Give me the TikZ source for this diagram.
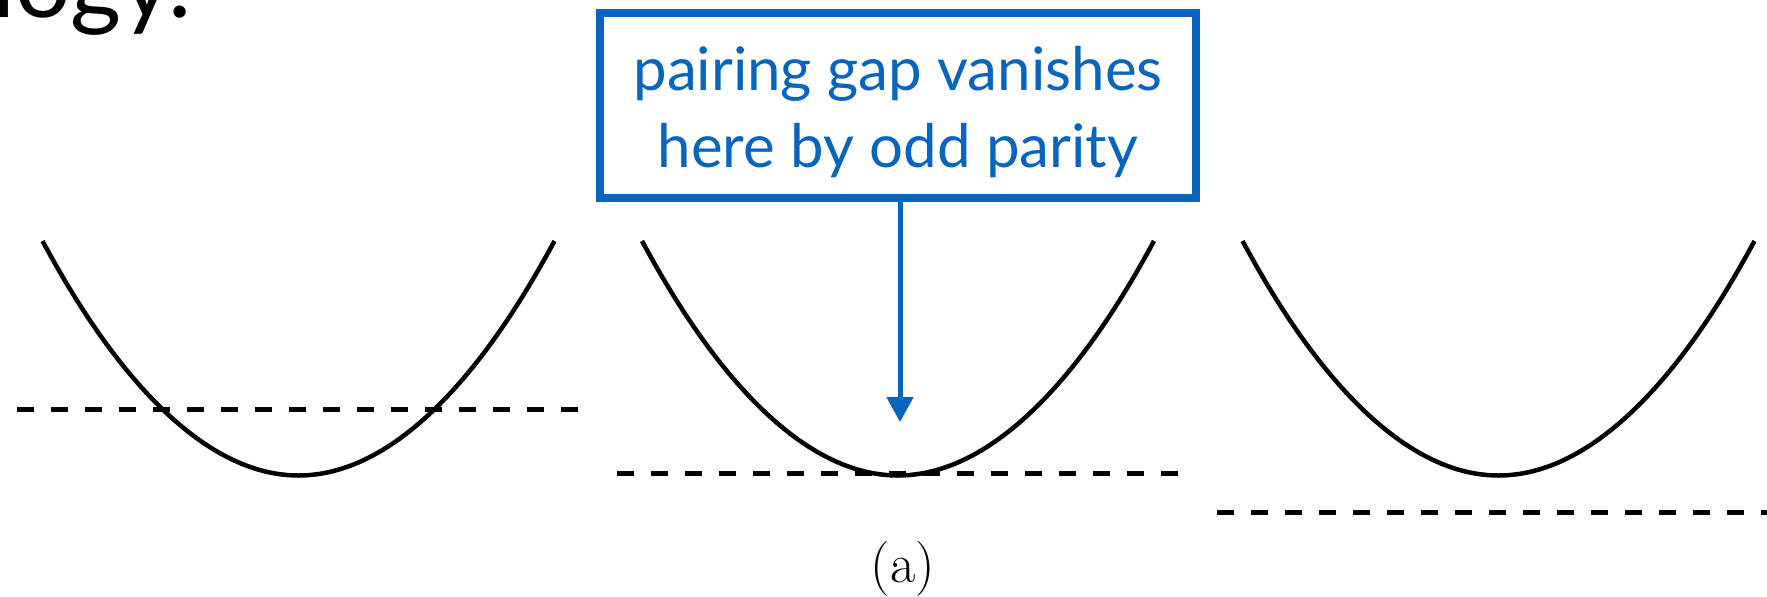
\documentclass[tikz,border=0pt]{standalone}
\usepackage{fontspec}
\newfontfamily\gill{Lato}
\usetikzlibrary{arrows.meta}
\definecolor{kblue}{RGB}{7,101,192}
\tikzset{
  curve/.style={line width=4.5pt, black},
  level/.style={line width=5pt, black, dash pattern=on 17pt off 17pt},
  callout/.style={draw=kblue, line width=8pt, minimum width=596.5pt, minimum height=185pt, inner sep=0pt},
  callouttext/.style={text=kblue, font=\gill\fontsize{60}{77}\selectfont, inner sep=0pt, anchor=base},
  pointer/.style={draw=kblue, line width=5pt, -{Triangle[width=26pt,length=25pt]}},
}
\begin{document}
\begin{tikzpicture}[x=1pt,y=1pt]
\useasboundingbox (0,0) rectangle (1767,-597);
% cut-off title
\node[anchor=base east, inner sep=0pt, font=\gill\fontsize{98}{112}\selectfont] (title) at (192,-17) {ology.};
% parabolas
\draw[curve] (42.5,-241) parabola bend (298.5,-475.5) (554.5,-241);
\draw[curve] (642,-241) parabola bend (898,-475.5) (1154,-241);
\draw[curve] (1242.5,-241) parabola bend (1498.5,-475.5) (1754.5,-241);
% dashed levels
\draw[level] (17,-409) -- (580,-409);
\draw[level] (617,-473) -- (1180,-473);
\draw[level] (1217,-512) -- (1767,-512);
% callout
\node[callout] (box) at (898,-105.5) {};
\node[callouttext] (l1) at (898,-90) {pairing gap vanishes};
\node[callouttext] (l2) at (898,-167) {here by odd parity};
\coordinate (tip) at (900,-422);
\draw[pointer] (box.south -| tip) -- (tip);
% caption
\node[anchor=base, inner sep=0pt, font=\fontsize{55}{66}\selectfont] (cap) at (903,-582) {(a)};
\end{tikzpicture}
\end{document}
